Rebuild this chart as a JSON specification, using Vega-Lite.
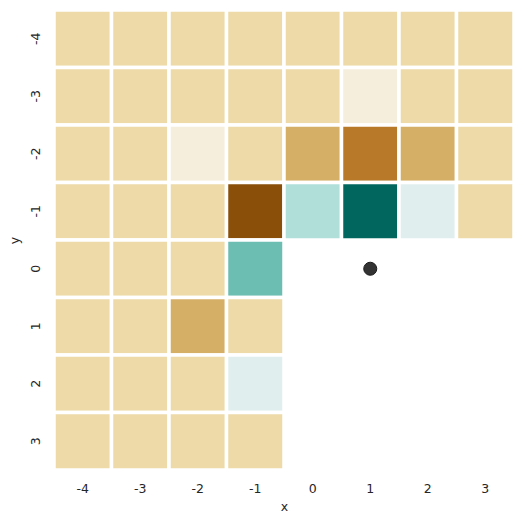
{
  "$schema": "https://vega.github.io/schema/vega-lite/v6.json",
  "width": 460,
  "height": 460,
  "autosize": {"type": "none"},
  "padding": {"left": 54, "top": 10, "right": 11, "bottom": 55},
  "background": "white",
  "config": {
    "view": {"stroke": null},
    "font": "DejaVu Sans",
    "axis": {"domain": false, "ticks": false, "grid": false, "labelColor": "#262626", "titleColor": "#262626", "labelFontSize": 12.5, "titleFontSize": 12.5, "titleFontWeight": "normal"}
  },
  "datasets": {
    "cells": [
      {"x": -4, "y": -4, "value": -1}, {"x": -3, "y": -4, "value": -1}, {"x": -2, "y": -4, "value": -1}, {"x": -1, "y": -4, "value": -1},
      {"x": 0, "y": -4, "value": -1}, {"x": 1, "y": -4, "value": -1}, {"x": 2, "y": -4, "value": -1}, {"x": 3, "y": -4, "value": -1},
      {"x": -4, "y": -3, "value": -1}, {"x": -3, "y": -3, "value": -1}, {"x": -2, "y": -3, "value": -1}, {"x": -1, "y": -3, "value": -1},
      {"x": 0, "y": -3, "value": -1}, {"x": 1, "y": -3, "value": 0}, {"x": 2, "y": -3, "value": -1}, {"x": 3, "y": -3, "value": -1},
      {"x": -4, "y": -2, "value": -1}, {"x": -3, "y": -2, "value": -1}, {"x": -2, "y": -2, "value": 0}, {"x": -1, "y": -2, "value": -1},
      {"x": 0, "y": -2, "value": -2}, {"x": 1, "y": -2, "value": -3}, {"x": 2, "y": -2, "value": -2}, {"x": 3, "y": -2, "value": -1},
      {"x": -4, "y": -1, "value": -1}, {"x": -3, "y": -1, "value": -1}, {"x": -2, "y": -1, "value": -1}, {"x": -1, "y": -1, "value": -4},
      {"x": 0, "y": -1, "value": 2}, {"x": 1, "y": -1, "value": 5}, {"x": 2, "y": -1, "value": 1}, {"x": 3, "y": -1, "value": -1},
      {"x": -4, "y": 0, "value": -1}, {"x": -3, "y": 0, "value": -1}, {"x": -2, "y": 0, "value": -1}, {"x": -1, "y": 0, "value": 3},
      {"x": -4, "y": 1, "value": -1}, {"x": -3, "y": 1, "value": -1}, {"x": -2, "y": 1, "value": -2}, {"x": -1, "y": 1, "value": -1},
      {"x": -4, "y": 2, "value": -1}, {"x": -3, "y": 2, "value": -1}, {"x": -2, "y": 2, "value": -1}, {"x": -1, "y": 2, "value": 1},
      {"x": -4, "y": 3, "value": -1}, {"x": -3, "y": 3, "value": -1}, {"x": -2, "y": 3, "value": -1}, {"x": -1, "y": 3, "value": -1}
    ],
    "marker": [{"x": 1, "y": 0}]
  },
  "layer": [
    {
      "data": {"name": "cells"},
      "mark": {"type": "rect", "stroke": "white", "strokeWidth": 3.5},
      "encoding": {
        "x": {"field": "x", "type": "ordinal", "scale": {"domain": [-4, -3, -2, -1, 0, 1, 2, 3], "paddingInner": 0, "paddingOuter": 0}, "axis": {"labelAngle": 0, "labelPadding": 12, "titlePadding": 6, "title": "x"}},
        "y": {"field": "y", "type": "ordinal", "scale": {"domain": [-4, -3, -2, -1, 0, 1, 2, 3], "paddingInner": 0, "paddingOuter": 0}, "axis": {"labelAngle": -90, "labelPadding": 12, "titlePadding": 8, "title": "y"}},
        "color": {"field": "value", "type": "ordinal", "legend": null,
          "scale": {"domain": [-4, -3, -2, -1, 0, 1, 2, 3, 5], "range": ["#8A4F09", "#B87A29", "#D6AF66", "#EDDAA8", "#F5EEDD", "#E0EFEE", "#AFDFD8", "#6CBDB2", "#01665E"]}}
      }
    },
    {
      "data": {"name": "marker"},
      "mark": {"type": "point", "filled": true, "size": 170, "color": "#333333", "stroke": "#1a1a1a", "strokeWidth": 1, "opacity": 1},
      "encoding": {
        "x": {"field": "x", "type": "ordinal"},
        "y": {"field": "y", "type": "ordinal"}
      }
    }
  ]
}
